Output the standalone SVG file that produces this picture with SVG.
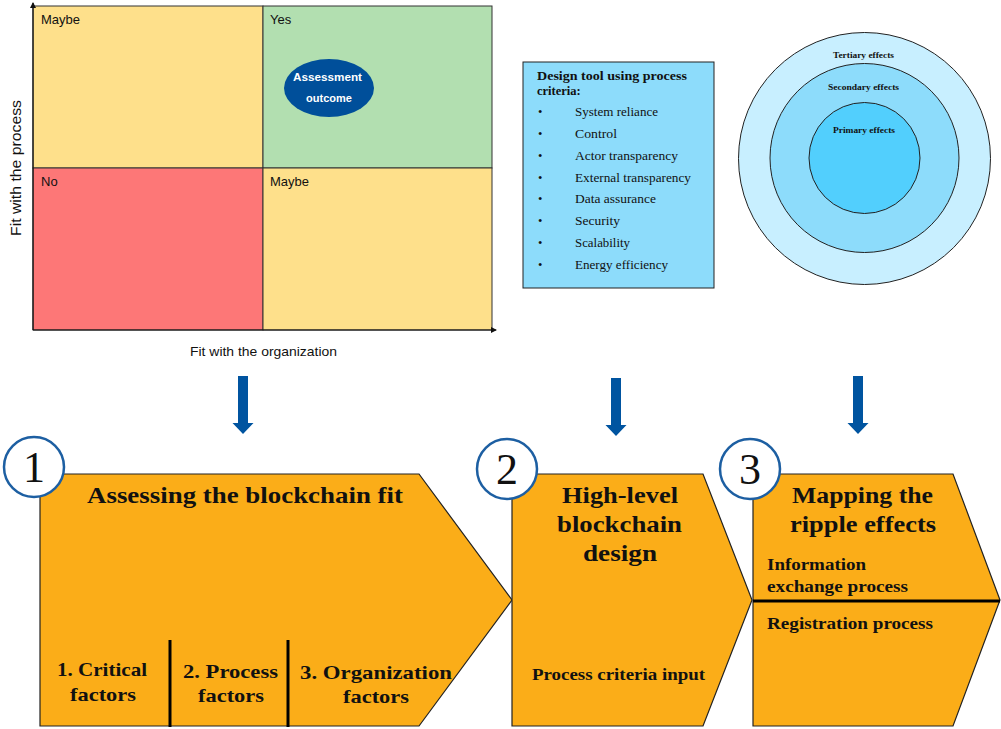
<svg xmlns="http://www.w3.org/2000/svg" width="1001" height="729" viewBox="0 0 1001 729">
<style>
.sans{font-family:"Liberation Sans",Arial,sans-serif;fill:#111}
.serif{font-family:"Liberation Serif","Times New Roman",serif;fill:#111}
.b{font-weight:bold}
.quad{stroke:#333;stroke-width:1}
.pent{fill:#fbad18;stroke:#222;stroke-width:1.2}
.num{fill:#fff;stroke:#1d5fa2;stroke-width:2.5}
.numt{font-family:"Liberation Serif","Times New Roman",serif;font-size:44px;fill:#111}
.div{stroke:#000;stroke-width:3}
.ttl{font-size:23px;font-weight:bold}
.sub{font-size:16px;font-weight:bold}
.crit{font-size:12.5px}
.ring{stroke:#222;stroke-width:1}
.rt{font-size:9px;font-weight:bold}
</style>
<defs>
<marker id="ah" viewBox="0 0 6 6" refX="5" refY="3" markerWidth="6" markerHeight="6" markerUnits="userSpaceOnUse" orient="auto">
<path d="M0,0 L6,3 L0,6 z" fill="#111"/>
</marker>
<path id="blueArrow" d="M-5,0 H5 V47 H10.5 L0,58 L-10.5,47 H-5 z" fill="#0054a0"/>
</defs>
<rect width="1001" height="729" fill="#fff"/>

<g id="matrix">
<rect class="quad" x="33" y="6" width="230" height="162" fill="#fee08b"/>
<rect class="quad" x="263" y="6" width="229" height="162" fill="#b2dfb0"/>
<rect class="quad" x="33" y="168" width="230" height="162" fill="#fd7777"/>
<rect class="quad" x="263" y="168" width="229" height="162" fill="#fee08b"/>
<line x1="33" y1="330" x2="33" y2="3" stroke="#111" stroke-width="1.2" marker-end="url(#ah)"/>
<line x1="33" y1="330" x2="496" y2="330" stroke="#111" stroke-width="1.2" marker-end="url(#ah)"/>
<text class="sans" x="41" y="24" font-size="13">Maybe</text>
<text class="sans" x="270" y="24" font-size="13">Yes</text>
<text class="sans" x="41" y="186" font-size="13">No</text>
<text class="sans" x="270" y="186" font-size="13">Maybe</text>
<text class="sans" x="190" y="356" font-size="13.5" textLength="147" lengthAdjust="spacingAndGlyphs">Fit with the organization</text>
<text class="sans" transform="translate(21,236) rotate(-90)" font-size="14" textLength="136" lengthAdjust="spacingAndGlyphs">Fit with the process</text>
</g>

<g id="assessment-outcome">
<ellipse cx="329" cy="88" rx="45" ry="29" fill="#004f9a"/>
<text class="sans b" x="293" y="81" font-size="11" textLength="69" lengthAdjust="spacingAndGlyphs" style="fill:#fff">Assessment</text>
<text class="sans b" x="329" y="102" font-size="11" text-anchor="middle" style="fill:#fff">outcome</text>
</g>

<g id="design-tool">
<rect x="523" y="62" width="191" height="226" fill="#8ddcfb" stroke="#222" stroke-width="1"/>
<text class="serif b" x="537" y="80" font-size="12.5" textLength="150" lengthAdjust="spacingAndGlyphs">Design tool using process</text>
<text class="serif b" x="537" y="95" font-size="12.5">criteria:</text>
<g class="serif crit">
<text x="538" y="116">•</text><text x="575" y="116" textLength="83" lengthAdjust="spacingAndGlyphs">System reliance</text>
<text x="538" y="138">•</text><text x="575" y="138" textLength="42" lengthAdjust="spacingAndGlyphs">Control</text>
<text x="538" y="160">•</text><text x="575" y="160" textLength="103" lengthAdjust="spacingAndGlyphs">Actor transparency</text>
<text x="538" y="182">•</text><text x="575" y="182" textLength="116" lengthAdjust="spacingAndGlyphs">External transparency</text>
<text x="538" y="203">•</text><text x="575" y="203" textLength="81" lengthAdjust="spacingAndGlyphs">Data assurance</text>
<text x="538" y="225">•</text><text x="575" y="225" textLength="45" lengthAdjust="spacingAndGlyphs">Security</text>
<text x="538" y="247">•</text><text x="575" y="247" textLength="55" lengthAdjust="spacingAndGlyphs">Scalability</text>
<text x="538" y="269">•</text><text x="575" y="269" textLength="93" lengthAdjust="spacingAndGlyphs">Energy efficiency</text>
</g>
</g>

<g id="ripple-circles">
<circle class="ring" cx="864.5" cy="158.5" r="126" fill="#c8efff"/>
<circle class="ring" cx="864.5" cy="158" r="94.5" fill="#8ddcfb"/>
<circle class="ring" cx="864.5" cy="158" r="55.5" fill="#52cffd"/>
<text class="serif rt" x="833" y="58" textLength="61" lengthAdjust="spacingAndGlyphs">Tertiary effects</text>
<text class="serif rt" x="828" y="90" textLength="71" lengthAdjust="spacingAndGlyphs">Secondary effects</text>
<text class="serif rt" x="833" y="133" textLength="62" lengthAdjust="spacingAndGlyphs">Primary effects</text>
</g>

<g id="connectors">
<use href="#blueArrow" x="243" y="376"/>
<use href="#blueArrow" x="616" y="378"/>
<use href="#blueArrow" x="858" y="376"/>
</g>

<g id="step1">
<polygon class="pent" points="40,474 419,474 512,600 419,726 40,726"/>
<line class="div" x1="170" y1="640" x2="170" y2="727"/>
<line class="div" x1="288" y1="640" x2="288" y2="727"/>
<text class="serif ttl" x="87" y="503" textLength="316" lengthAdjust="spacingAndGlyphs">Assessing the blockchain fit</text>
<g class="serif" font-size="19.5" font-weight="bold">
<text x="57" y="676" textLength="90" lengthAdjust="spacingAndGlyphs">1. Critical</text>
<text x="70" y="701" textLength="66" lengthAdjust="spacingAndGlyphs">factors</text>
<text x="183" y="678" textLength="95" lengthAdjust="spacingAndGlyphs">2. Process</text>
<text x="198" y="702" textLength="66" lengthAdjust="spacingAndGlyphs">factors</text>
<text x="300" y="679" textLength="152" lengthAdjust="spacingAndGlyphs">3. Organization</text>
<text x="343" y="703" textLength="66" lengthAdjust="spacingAndGlyphs">factors</text>
</g>
<circle class="num" cx="34" cy="467" r="30"/>
<text class="numt" x="34" y="482" text-anchor="middle">1</text>
</g>

<g id="step2">
<polygon class="pent" points="512,474 703,474 752,600 703,726 512,726"/>
<g class="serif ttl">
<text x="562" y="503" textLength="116" lengthAdjust="spacingAndGlyphs">High-level</text>
<text x="557" y="532" textLength="125" lengthAdjust="spacingAndGlyphs">blockchain</text>
<text x="583" y="561" textLength="74" lengthAdjust="spacingAndGlyphs">design</text>
</g>
<text class="serif sub" x="532" y="680" textLength="173" lengthAdjust="spacingAndGlyphs">Process criteria input</text>
<circle class="num" cx="507" cy="469" r="30"/>
<text class="numt" x="507" y="484" text-anchor="middle">2</text>
</g>

<g id="step3">
<polygon class="pent" points="753,474 953,474 1000,600 953,726 753,726"/>
<line class="div" x1="753" y1="601" x2="1000" y2="601"/>
<g class="serif ttl">
<text x="792" y="503" textLength="141" lengthAdjust="spacingAndGlyphs">Mapping the</text>
<text x="790" y="532" textLength="146" lengthAdjust="spacingAndGlyphs">ripple effects</text>
</g>
<text class="serif sub" x="767" y="570" textLength="99" lengthAdjust="spacingAndGlyphs">Information</text>
<text class="serif sub" x="767" y="592" textLength="141" lengthAdjust="spacingAndGlyphs">exchange process</text>
<text class="serif sub" x="767" y="629" textLength="166" lengthAdjust="spacingAndGlyphs">Registration process</text>
<circle class="num" cx="750" cy="469" r="30"/>
<text class="numt" x="750" y="484" text-anchor="middle">3</text>
</g>
</svg>
